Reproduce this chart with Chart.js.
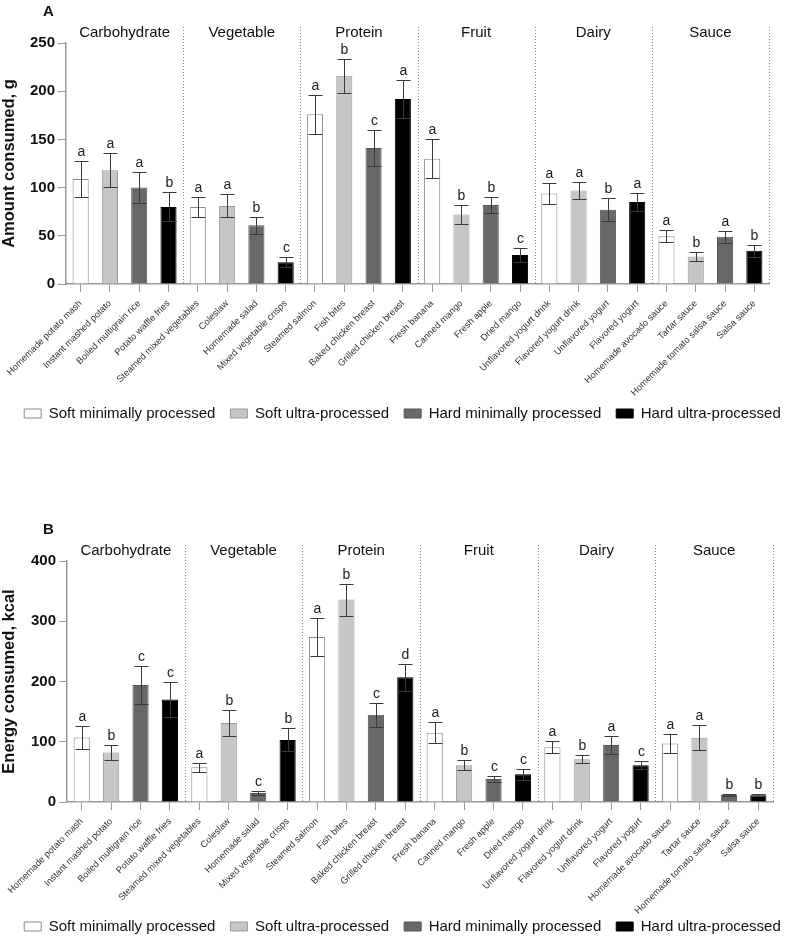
<!DOCTYPE html>
<html>
<head>
<meta charset="utf-8">
<script src="https://cdn.jsdelivr.net/npm/chart.js@4"></script>
<style>
  html, body { margin: 0; background: #fff; overflow: hidden; }
  .panel { position: absolute; left: 0; width: 791px; height: 444px; }
  #panel-a { top: 0; }
  #panel-b { top: 518px; }
</style>
</head>
<body>
<div class="panel" id="panel-a"><canvas id="amount-chart"></canvas></div>
<div class="panel" id="panel-b"><canvas id="energy-chart"></canvas></div>
<script>
const foods = [
  "Homemade potato mash", "Instant mashed potato", "Boiled multigrain rice", "Potato waffle fries",
  "Steamed mixed vegetables", "Coleslaw", "Homemade salad", "Mixed vegetable crisps",
  "Steamed salmon", "Fish bites", "Baked chicken breast", "Grilled chicken breast",
  "Fresh banana", "Canned mango", "Fresh apple", "Dried mango",
  "Unflavored yogurt drink", "Flavored yogurt drink", "Unflavored yogurt", "Flavored yogurt",
  "Homemade avocado sauce", "Tartar sauce", "Homemade tomato salsa sauce", "Salsa sauce",
];
const groups = ["Carbohydrate", "Vegetable", "Protein", "Fruit", "Dairy", "Sauce"];
const processing = [
  "Soft minimally processed", "Soft ultra-processed",
  "Hard minimally processed", "Hard ultra-processed",
];

// panel A: amount consumed, g (mean, error)
const amountMean = [109, 118, 100, 80, 80, 81, 61, 22.5, 176, 216, 141, 192, 130, 72, 82, 30, 94, 97, 77, 85, 49.5, 28.5, 49, 34.5];
const amountErr = [19, 17.5, 16, 15, 10, 12, 9, 5, 20, 17.5, 18.5, 20, 20, 10, 8.5, 7, 10.5, 8.5, 12, 9, 6, 4.5, 6, 6];
const amountLetters = ["a", "a", "a", "b", "a", "a", "b", "c", "a", "b", "c", "a", "a", "b", "b", "c", "a", "a", "b", "a", "a", "b", "a", "b"];

// panel B: energy consumed, kcal (mean, error)
const energyMean = [107, 82, 194, 170, 57.5, 131, 15, 103, 274, 336, 145, 207, 115, 61, 38, 46, 91, 71, 94.5, 61, 97, 106.5, 11.5, 11];
const energyErr = [19, 13, 32, 29, 8, 21, 3, 19, 32, 26.5, 20, 22, 17, 8.5, 5.5, 9, 10, 6.5, 15.5, 6.5, 16, 20.5, 1.8, 1.5];
const energyLetters = ["a", "b", "c", "c", "a", "b", "c", "b", "a", "b", "c", "d", "a", "b", "c", "c", "a", "b", "a", "c", "a", "a", "b", "b"];

const fills = ["#ffffff", "#c6c6c6", "#686868", "#000000"];
const borders = ["#8a8a8a", "#9c9c9c", "#555555", "#000000"];
const FONT = "'Liberation Sans', Arial, sans-serif";

Chart.defaults.font.family = FONT;
Chart.defaults.color = "#111";

const decor = {
  id: "decor",
  beforeDraw(chart, args, opts) {
    // pull the legend up close under the rotated labels, nudge it right
    const lg = chart.legend;
    const h = lg.bottom - lg.top;
    lg.top = chart.chartArea.bottom + opts.legendGap;
    lg.bottom = lg.top + h;
    lg.left = 7;
    lg.right = chart.width + 7;
  },
  afterDatasetsDraw(chart, args, opts) {
    const { ctx, scales: { x, y } } = chart;
    ctx.save();
    ctx.strokeStyle = "#3a3a3a";
    ctx.lineWidth = 1;
    ctx.fillStyle = "#222";
    ctx.font = "14px " + FONT;
    ctx.textAlign = "center";
    ctx.textBaseline = "bottom";
    opts.means.forEach((m, i) => {
      const cx = Math.round(x.getPixelForValue(i)) + 0.5;
      const top = Math.round(y.getPixelForValue(m + opts.errors[i])) + 0.5;
      const low = Math.round(y.getPixelForValue(Math.max(0, m - opts.errors[i]))) + 0.5;
      ctx.beginPath();
      ctx.moveTo(cx, top);
      ctx.lineTo(cx, low);
      ctx.moveTo(cx - 7, top);
      ctx.lineTo(cx + 7, top);
      ctx.moveTo(cx - 7, low);
      ctx.lineTo(cx + 7, low);
      ctx.stroke();
      ctx.fillText(opts.letters[i], cx, top - 2);
    });
    ctx.restore();
  },
  afterDraw(chart, args, opts) {
    const { ctx, chartArea, scales: { x } } = chart;
    const step = x.getPixelForValue(1) - x.getPixelForValue(0);
    ctx.save();
    // dotted group separators
    ctx.strokeStyle = "#8c8c8c";
    ctx.lineWidth = 1;
    ctx.setLineDash([1, 2]);
    groups.forEach((g, k) => {
      const sx = Math.round(x.getPixelForValue(k * 4 + 3) + step / 2) + 0.5;
      ctx.beginPath();
      ctx.moveTo(sx, chartArea.top - 16);
      ctx.lineTo(sx, chartArea.bottom);
      ctx.stroke();
    });
    ctx.setLineDash([]);
    // group titles
    ctx.fillStyle = "#111";
    ctx.font = "15px " + FONT;
    ctx.textAlign = "center";
    ctx.textBaseline = "middle";
    groups.forEach((g, k) => {
      const gx = (x.getPixelForValue(k * 4) + x.getPixelForValue(k * 4 + 3)) / 2;
      ctx.fillText(g, gx, chartArea.top - 10);
    });
    // panel tag
    ctx.font = "bold 15px " + FONT;
    ctx.textAlign = "left";
    ctx.fillText(opts.tag, 43, 12);
    ctx.restore();
  },
};

function makePanel(canvasId, tag, means, errors, letters, yMax, yStep, yTitle, yWidth, padRight, legendGap) {
  return new Chart(document.getElementById(canvasId), {
    type: "bar",
    data: {
      labels: foods,
      datasets: processing.map((name, k) => ({
        label: name,
        data: means.map((v, i) => (i % 4 === k ? v : null)),
        backgroundColor: fills[k],
        borderColor: borders[k],
        borderWidth: 1,
        grouped: false,
        barPercentage: 0.55,
        categoryPercentage: 1,
      })),
    },
    options: {
      responsive: true,
      maintainAspectRatio: false,
      animation: false,
      devicePixelRatio: 1,
      layout: { padding: { top: 43, right: 0, left: 0, bottom: 0 } },
      plugins: {
        tooltip: { enabled: false },
        legend: {
          position: "bottom",
          labels: {
            boxWidth: 17,
            boxHeight: 9,
            padding: 15,
            color: "#111",
            font: { size: 15 },
          },
        },
        decor: { tag, means, errors, letters, legendGap },
      },
      scales: {
        x: {
          offset: true,
          border: { display: true, color: "#999", width: 1.5 },
          grid: { offset: false, drawOnChartArea: false, tickLength: 8, color: "#999" },
          ticks: {
            autoSkip: false,
            minRotation: 45,
            maxRotation: 45,
            padding: 6,
            color: "#333",
            font: { size: 9.3 },
          },
          afterFit: (scale) => { scale.height = 120; },
        },
        y: {
          min: 0,
          max: yMax,
          border: { display: true, color: "#999", width: 1.5 },
          grid: { drawOnChartArea: false, tickLength: 8, color: "#999" },
          ticks: { stepSize: yStep, padding: 3, color: "#111", font: { size: 15, weight: "bold" } },
          title: { display: true, text: yTitle, color: "#111", padding: 0, font: { size: 16.5, weight: "bold" } },
          afterFit: (scale) => { scale.width = yWidth; },
        },
        // empty right-hand axis: only reserves margin so the legend keeps full width
        pad: {
          axis: "y",
          position: "right",
          border: { display: false },
          grid: { display: false },
          ticks: { display: false },
          afterFit: (scale) => { scale.width = padRight; },
        },
      },
    },
    plugins: [decor],
  });
}

makePanel("amount-chart", "A", amountMean, amountErr, amountLetters, 250, 50, "Amount consumed, g", 66, 22, 107);
makePanel("energy-chart", "B", energyMean, energyErr, energyLetters, 400, 100, "Energy consumed, kcal", 67, 18, 102);
</script>
</body>
</html>
